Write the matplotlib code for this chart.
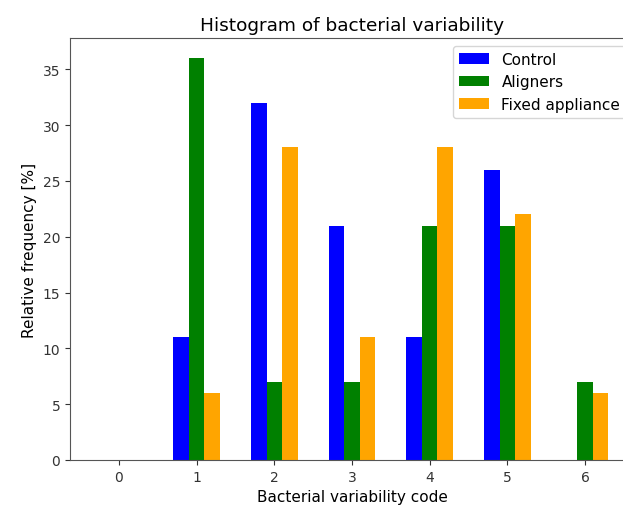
import numpy as np
import matplotlib
matplotlib.use('Agg')
import matplotlib.pyplot as plt

codes = [0, 1, 2, 3, 4, 5, 6]
control = [0, 11, 32, 21, 11, 26, 0]
aligners = [0, 36, 7, 7, 21, 21, 7]
fixed = [0, 6, 28, 11, 28, 22, 6]

x = np.array(codes)
w = 0.2

fig = plt.figure(figsize=(6.23, 5.10), dpi=100)
# the axes run past the right edge of the picture, like the cropped original
ax = fig.add_axes([0.1124, 0.0961, 0.9053, 0.8274])
ax.bar(x - w, control, width=w, color='blue', label='Control')
ax.bar(x, aligners, width=w, color='green', label='Aligners')
ax.bar(x + w, fixed, width=w, color='orange', label='Fixed appliance')
ax.set_title('Histogram of bacterial variability', fontsize=13.3)
ax.set_xlabel('Bacterial variability code', fontsize=11)
ax.set_ylabel('Relative frequency [%]', fontsize=11)
ax.set_xticks(codes)
for s in ax.spines.values():
    s.set_color('#555555')
ax.spines['right'].set_visible(False)
ax.tick_params(colors='#333333', labelcolor='#333333')
ax.legend(loc='upper right', fontsize=11)
fig.savefig('out.png', dpi=100)
